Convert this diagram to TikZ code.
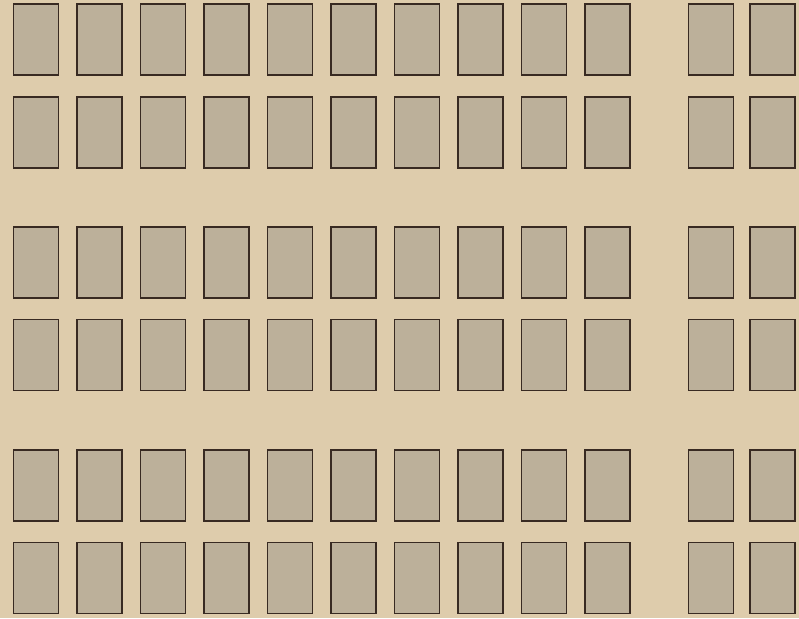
\documentclass[tikz,border=0pt]{standalone}
\usepackage{xcolor}
\usepackage{tikz}
\usetikzlibrary{positioning}

\definecolor{paper}{RGB}{222,204,172}
\definecolor{boxfill}{RGB}{188,176,154}
\definecolor{boxline}{RGB}{56,42,34}

\begin{document}
\begin{tikzpicture}[
    x=1pt, y=-1pt,
    seat/.style={draw=boxline, fill=boxfill, line width=1.8pt, minimum width=45pt, minimum height=71pt, inner sep=0pt}
]
    % paper
    \fill[paper] (0, 0) rectangle (799, 618);
    \useasboundingbox (0, 0) rectangle (799, 618);

    % main block, ten columns
    \foreach \r/\y in {1/39.5, 2/132.5, 3/262.5, 4/355, 5/485.5, 6/578} {
        \foreach \c in {0,...,9} {
            \node[seat] (s-\r-\c) at ({36 + 63.5*\c}, \y) {};
        }
        % side block, two columns
        \node[seat] (s-\r-a) at (711, \y) {};
        \node[seat] (s-\r-b) at (772.5, \y) {};
    }
\end{tikzpicture}
\end{document}
